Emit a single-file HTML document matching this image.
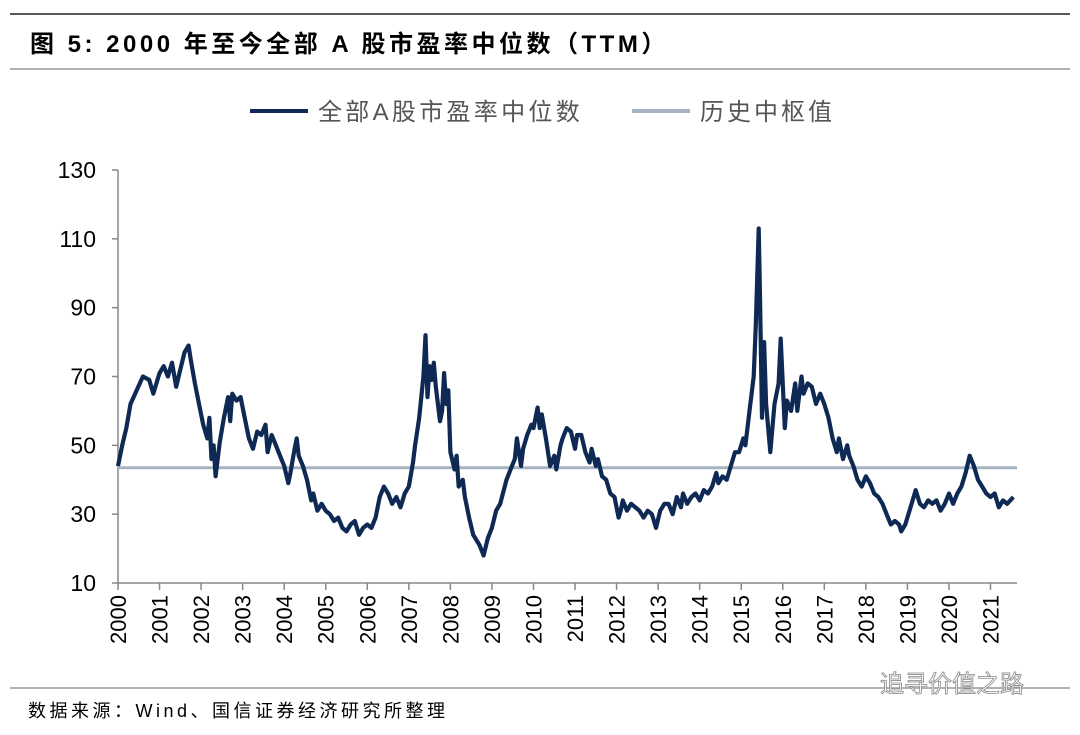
<!DOCTYPE html>
<html><head><meta charset="utf-8"><style>
body{margin:0;background:#fff;width:1080px;height:730px;overflow:hidden;font-family:"Liberation Sans","Noto Sans CJK SC",sans-serif}
</style></head><body>
<svg width="1080" height="730" xmlns="http://www.w3.org/2000/svg">
<line x1="10" y1="14" x2="1070" y2="14" stroke="#222" stroke-width="1.5"/>
<text x="30" y="52" font-size="24" font-weight="bold" letter-spacing="3.5" fill="#000" font-family="Liberation Sans, Noto Sans CJK SC, sans-serif">图 5: 2000 年至今全部 A 股市盈率中位数（TTM）</text>
<line x1="10" y1="69" x2="1070" y2="69" stroke="#999" stroke-width="1.5"/>
<g>
<line x1="250" y1="111" x2="308" y2="111" stroke="#0e2a54" stroke-width="4"/>
<text x="318" y="120" font-size="24" letter-spacing="3.3" fill="#555">全部A股市盈率中位数</text>
<line x1="632" y1="111" x2="690" y2="111" stroke="#a5b3c1" stroke-width="4"/>
<text x="700" y="120" font-size="24" letter-spacing="3" fill="#555">历史中枢值</text>
</g>
<g id="axes"></g>
<g id="plot"></g>
<line x1="10" y1="688" x2="1070" y2="688" stroke="#999" stroke-width="1.5"/>
<text x="28" y="717" font-size="18" letter-spacing="3.5" fill="#000">数据来源：Wind、国信证券经济研究所整理</text>
<text x="880" y="692" font-size="24" fill="#fff" stroke="#888" stroke-width="0.8">追寻价值之路</text>
</svg>
<script>
const dates=[2000.0,2000.1,2000.2,2000.3,2000.45,2000.6,2000.75,2000.85,2001.0,2001.1,2001.2,2001.3,2001.4,2001.5,2001.6,2001.7,2001.75,2001.85,2001.95,2002.05,2002.15,2002.2,2002.25,2002.3,2002.35,2002.45,2002.55,2002.65,2002.7,2002.75,2002.85,2002.95,2003.05,2003.15,2003.25,2003.35,2003.45,2003.55,2003.6,2003.7,2003.8,2003.9,2004.0,2004.1,2004.15,2004.25,2004.3,2004.35,2004.45,2004.55,2004.65,2004.7,2004.8,2004.9,2005.0,2005.1,2005.2,2005.3,2005.4,2005.5,2005.6,2005.7,2005.8,2005.9,2006.0,2006.1,2006.2,2006.3,2006.4,2006.5,2006.6,2006.7,2006.8,2006.9,2007.0,2007.1,2007.15,2007.25,2007.35,2007.4,2007.45,2007.5,2007.55,2007.6,2007.65,2007.75,2007.8,2007.85,2007.9,2007.95,2008.0,2008.1,2008.15,2008.2,2008.3,2008.35,2008.45,2008.55,2008.7,2008.8,2008.9,2009.0,2009.1,2009.2,2009.35,2009.45,2009.55,2009.6,2009.7,2009.75,2009.85,2009.95,2010.0,2010.1,2010.15,2010.2,2010.3,2010.4,2010.5,2010.55,2010.65,2010.7,2010.8,2010.9,2011.0,2011.05,2011.15,2011.25,2011.35,2011.4,2011.5,2011.55,2011.65,2011.75,2011.85,2011.95,2012.05,2012.1,2012.15,2012.25,2012.35,2012.45,2012.55,2012.65,2012.75,2012.85,2012.95,2013.05,2013.15,2013.25,2013.35,2013.45,2013.55,2013.6,2013.7,2013.8,2013.9,2014.0,2014.1,2014.2,2014.3,2014.4,2014.45,2014.55,2014.65,2014.75,2014.85,2014.95,2015.05,2015.1,2015.2,2015.3,2015.35,2015.42,2015.45,2015.5,2015.55,2015.6,2015.7,2015.8,2015.9,2015.95,2016.05,2016.1,2016.2,2016.3,2016.35,2016.45,2016.5,2016.6,2016.7,2016.8,2016.9,2017.0,2017.1,2017.2,2017.3,2017.35,2017.45,2017.55,2017.6,2017.7,2017.8,2017.9,2018.0,2018.1,2018.2,2018.3,2018.4,2018.5,2018.6,2018.7,2018.8,2018.85,2018.95,2019.1,2019.2,2019.3,2019.4,2019.5,2019.6,2019.7,2019.8,2019.9,2020.0,2020.1,2020.2,2020.3,2020.4,2020.5,2020.6,2020.7,2020.8,2020.9,2021.0,2021.1,2021.2,2021.3,2021.4,2021.55];
const peValues=[44,50,55,62,66,70,69,65,71,73,70,74,67,72,77,79,75,68,62,56,52,58,46,50,41,51,58,64,57,65,63,64,58,52,49,54,53,56,48,53,50,47,44,39,42,49,52,47,44,40,34,36,31,33,31,30,28,29,26,25,27,28,24,26,27,26,29,35,38,36,33,35,32,36,38,45,50,58,70,82,64,73,69,74,67,57,60,71,62,66,48,43,47,38,40,35,29,24,21,18,23,26,31,33,40,43,46,52,44,49,53,56,55,61,55,59,52,44,47,43,50,52,55,54,49,53,53,48,45,49,44,46,41,40,36,35,29,31,34,31,33,32,31,29,31,30,26,31,33,33,30,35,32,36,33,35,36,34,37,36,38,42,39,41,40,44,48,48,52,50,60,70,85,113,95,58,80,62,48,62,68,81,55,63,60,68,60,70,65,68,67,62,65,62,58,52,48,52,46,50,47,44,40,38,41,39,36,35,33,30,27,28,27,25,27,33,37,33,32,34,33,34,31,33,36,33,36,38,42,47,44,40,38,36,35,36,32,34,33,35];
const medianValue=[43.5];
const yTicks=[10,30,50,70,90,110,130];
const xTickYears=[2000,2001,2002,2003,2004,2005,2006,2007,2008,2009,2010,2011,2012,2013,2014,2015,2016,2017,2018,2019,2020,2021];
const NS='http://www.w3.org/2000/svg';
const X0=118,X1=1017;
const Y0=583,Y1=170;
function xs(t){return X0+(t-2000)*(990.5-X0)/21;}
function ys(v){return Y0-(v-10)*(Y0-Y1)/120;}
function mk(tag,attrs,parent){const e=document.createElementNS(NS,tag);for(const k in attrs)e.setAttribute(k,attrs[k]);parent.appendChild(e);return e;}
const axes=document.getElementById('axes'),plot=document.getElementById('plot');
let e=mk('line',{x1:X0,y1:Y1,x2:X0,y2:Y0,stroke:'#888','stroke-width':1.5},axes);


e=mk('line',{x1:X0,y1:Y0,x2:X1,y2:Y0,stroke:'#888','stroke-width':1.5},axes);


yTicks.forEach(v=>{
 const t=mk('line',{x1:X0-6,y1:ys(v),x2:X0,y2:ys(v),stroke:'#888','stroke-width':1.5},axes);
 
 
 const l=mk('text',{x:X0-22,y:ys(v)+8,'text-anchor':'end','font-size':23,fill:'#000'},axes);
 l.textContent=v;
 
 
});
xTickYears.forEach(yr=>{
 const x=xs(yr);
 const t=mk('line',{x1:x,y1:Y0,x2:x,y2:Y0+7,stroke:'#888','stroke-width':1.5},axes);
 
 
 const l=mk('text',{x:0,y:0,'text-anchor':'end','font-size':22,fill:'#000',transform:'translate('+(x+8)+','+(Y0+12)+') rotate(-90)'},axes);
 l.textContent=yr;
 
 
});
e=mk('line',{x1:X0,y1:ys(medianValue[0]),x2:X1,y2:ys(medianValue[0]),stroke:'#a5b3c1','stroke-width':3},plot);


let d='';
dates.forEach((t,i)=>{d+=(i?'L':'M')+xs(t).toFixed(1)+','+ys(peValues[i]).toFixed(1);});
e=mk('path',{d:d,fill:'none',stroke:'#0e2a54','stroke-width':4.2,'stroke-linejoin':'round'},plot);


</script>
</body></html>
